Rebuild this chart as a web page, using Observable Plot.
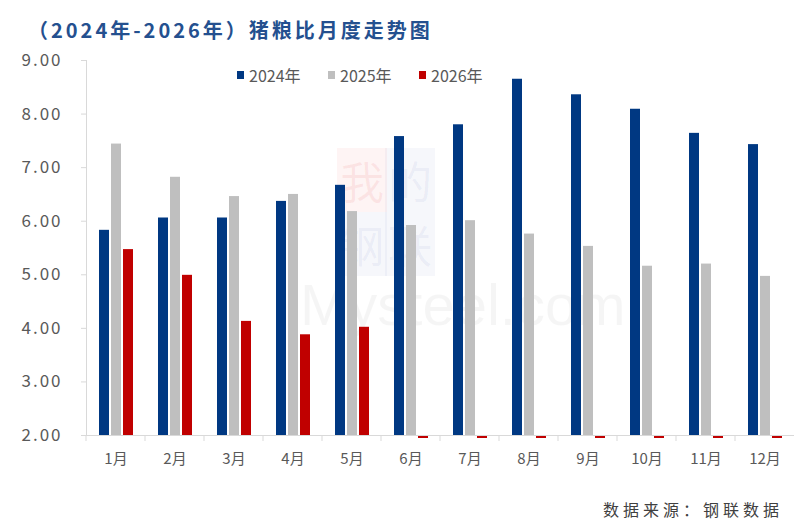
<!DOCTYPE html>
<html><head><meta charset="utf-8">
<script src="https://cdn.jsdelivr.net/npm/d3@7"></script>
<script src="https://cdn.jsdelivr.net/npm/@observablehq/plot@0.6"></script>
<style>
body{margin:0;background:#fff;width:800px;height:525px;overflow:hidden;position:relative;font-family:"Noto Sans CJK SC","Noto Sans",sans-serif}
#title{position:absolute;left:28px;top:16px;font-size:20px;font-weight:bold;color:#24508f;letter-spacing:3px;white-space:nowrap;line-height:28px}
#chart{position:absolute;left:0;top:45px}
#chart g[aria-label="y-axis tick label"] text{letter-spacing:2px}
#legend{position:absolute;top:63px;left:237px;display:flex;font-size:16px;color:#595959;line-height:24px;z-index:2}
#legend .it{display:flex;align-items:center;width:91px}
#legend .sw{width:7px;height:8px;margin-right:5px}
#caption{position:absolute;right:17px;top:497px;font-size:16px;color:#404040;letter-spacing:4px;white-space:nowrap}
#wm{position:absolute;left:300px;top:148px;width:240px;height:200px;pointer-events:none}
.wb{position:absolute;width:50px;height:64px;font-size:44px;line-height:64px;text-align:center;font-family:"Noto Sans CJK SC"}
</style></head>
<body>
<div id="wm">
  <div class="wb" style="left:37px;top:0;background:rgba(230,70,70,0.06);color:rgba(230,70,70,0.09)">我</div>
  <div class="wb" style="left:85px;top:0;background:rgba(70,100,180,0.05);color:rgba(70,100,180,0.08)">的</div>
  <div class="wb" style="left:37px;top:64px;background:rgba(70,100,180,0.05);color:rgba(70,100,180,0.08)">钢</div>
  <div class="wb" style="left:85px;top:64px;background:rgba(70,100,180,0.05);color:rgba(70,100,180,0.08)">联</div>
  <div style="position:absolute;left:0;top:129px;font-size:58px;line-height:56px;color:rgba(0,0,0,0.04);font-family:'Liberation Sans'">Mysteel.com</div>
</div>
<div id="title">（2024年-2026年）猪粮比月度走势图</div>
<div id="legend"></div>
<div id="chart"></div>
<div id="caption">数据来源：钢联数据</div>
<script>
const months = ["1月","2月","3月","4月","5月","6月","7月","8月","9月","10月","11月","12月"];
const years = ["2024年","2025年","2026年"];
const colors = ["#003882","#bfbfbf","#c00000"];
const v2024 = [5.83,6.06,6.06,6.37,6.67,7.58,7.80,8.65,8.36,8.09,7.64,7.43];
const v2025 = [7.44,6.82,6.46,6.50,6.18,5.92,6.01,5.76,5.53,5.16,5.20,4.97];
const v2026 = [5.47,4.99,4.13,3.88,4.02,0,0,0,0,0,0,0];
const yTicks = [2,3,4,5,6,7,8,9];
const yMin = 2, yMax = 9;

const series = [v2024, v2025, v2026];
const rows = [];
months.forEach((m, i) => years.forEach((y, j) => rows.push({month: m, year: y, value: series[j][i]})));
const shown = rows.filter(d => d.value >= yMin);
const empty = rows.filter(d => d.value < yMin);

const boundaryTicks = (index, scales, values, dimensions) => {
  const y0 = scales.y(yMin);
  const x0 = dimensions.marginLeft;
  const l = document.createElementNS("http://www.w3.org/2000/svg", "line");
  l.setAttribute("x1", x0); l.setAttribute("x2", x0);
  l.setAttribute("y1", y0); l.setAttribute("y2", y0 + 6);
  l.setAttribute("stroke", "#d9d9d9");
  return l;
};

const chart = Plot.plot({
  width: 800, height: 435,
  marginTop: 15, marginBottom: 45, marginLeft: 83, marginRight: 3,
  style: {fontFamily: '"Noto Sans CJK SC","Noto Sans",sans-serif', fontSize: "15px", background: "transparent"},
  fx: {domain: months, padding: 0, label: null},
  x: {domain: years, paddingInner: 0.18, paddingOuter: 1.03, axis: null},
  y: {domain: [yMin, yMax], label: null},
  color: {domain: years, range: colors},
  marks: [
    Plot.frame({anchor: "left", facetAnchor: "left", stroke: "#d9d9d9"}),
    Plot.ruleY([yMin], {stroke: "#d9d9d9"}),
    boundaryTicks,
    Plot.axisY({ticks: yTicks, tickFormat: d3.format(".2f"), tickSize: 5, tickPadding: 19, stroke: "#d9d9d9", fill: "#595959", fontSize: 17, label: null}),
    Plot.axisFx({anchor: "bottom", tickSize: 0, tickPadding: 18, fill: "#595959", fontSize: 15, label: null}),
    Plot.barY(shown, {fx: "month", x: "year", y1: yMin, y2: "value", fill: "year"}),
    Plot.barY(empty, {fx: "month", x: "year", y1: yMin, y2: yMin, fill: "year", insetTop: 1, insetBottom: -3})
  ]
});
document.getElementById("chart").appendChild(chart);

const lg = document.getElementById("legend");
years.forEach((y, i) => {
  const it = document.createElement("div"); it.className = "it";
  const sw = document.createElement("div"); sw.className = "sw"; sw.style.background = colors[i];
  const tx = document.createElement("span"); tx.textContent = y;
  it.appendChild(sw); it.appendChild(tx); lg.appendChild(it);
});
</script>
</body></html>
